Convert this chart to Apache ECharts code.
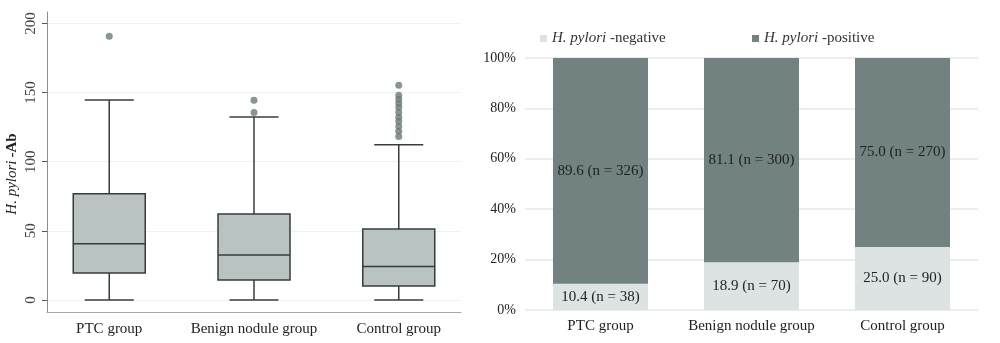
<!DOCTYPE html>
<html>
<head>
<meta charset="utf-8">
<script src="https://cdn.jsdelivr.net/npm/echarts@6/dist/echarts.min.js"></script>
<style>html,body{margin:0;padding:0;background:#fff}#c{width:1000px;height:343px}</style>
</head>
<body>
<div id="c"></div>
<script>
// Left chart: box plot of H. pylori-Ab
const boxCategories = ['PTC group', 'Benign nodule group', 'Control group'];
const boxMin = [0, 0, 0];
const boxQ1 = [19.5, 14.5, 10.1];
const boxMedian = [40.7, 32.5, 24.3];
const boxQ3 = [76.8, 62.1, 51.3];
const boxMax = [144.7, 132.4, 112.2];
const outliersPTC = [190.7];
const outliersBenign = [135.6, 144.5];
const outliersControl = [118.3, 122.1, 125.7, 129.3, 132.2, 135.8, 139.4, 142.3, 145.2, 148.1, 155.3];
const boxTicks = [0, 50, 100, 150, 200];

// Right chart: stacked percentage bars
const barCategories = ['PTC group', 'Benign nodule group', 'Control group'];
const negativePct = [10.4, 18.9, 25.0];
const negativeN = [38, 70, 90];
const positivePct = [89.6, 81.1, 75.0];
const positiveN = [326, 300, 270];

const FONT = '"Liberation Serif", serif';
const boxData = boxCategories.map((c, i) => [i + 1, boxMin[i], boxQ1[i], boxMedian[i], boxQ3[i], boxMax[i]]);
const outlierData = [];
outliersPTC.forEach(v => outlierData.push([1, v]));
outliersBenign.forEach(v => outlierData.push([2, v]));
outliersControl.forEach(v => outlierData.push([3, v]));

const chart = echarts.init(document.getElementById('c'), null, {renderer: 'canvas'});
chart.setOption({
  animation: false,
  textStyle: {fontFamily: FONT},
  grid: [
    {left: 47, top: 12, width: 414, bottom: 31},
    {left: 525, right: 22, top: 58, bottom: 33}
  ],
  legend: [
    {left: 535, top: 26, itemWidth: 7, itemHeight: 7, icon: 'rect', data: ['neg'],
     formatter: () => '{i|H. pylori} -negative',
     textStyle: {fontSize: 15, color: '#333', fontFamily: FONT, rich: {i: {fontStyle: 'italic', fontSize: 15, fontFamily: FONT, color: '#333'}}}},
    {left: 747, top: 26, itemWidth: 7, itemHeight: 7, icon: 'rect', data: ['pos'],
     formatter: () => '{i|H. pylori} -positive',
     textStyle: {fontSize: 15, color: '#333', fontFamily: FONT, rich: {i: {fontStyle: 'italic', fontSize: 15, fontFamily: FONT, color: '#333'}}}}
  ],
  xAxis: [
    {type: 'value', gridIndex: 0, min: 0.57, max: 3.43,
     axisLine: {onZero: false, lineStyle: {color: '#a3a8a8', width: 1}},
     axisTick: {show: false}, splitLine: {show: false},
     axisLabel: {customValues: [1, 2, 3], formatter: v => boxCategories[Math.round(v) - 1] || '',
                 fontSize: 15, color: '#222', fontFamily: FONT, margin: 10, hideOverlap: false}},
    {type: 'category', gridIndex: 1, data: barCategories,
     axisLine: {show: false}, axisTick: {show: false},
     axisLabel: {interval: 0, hideOverlap: false, fontSize: 15, color: '#222', fontFamily: FONT, margin: 9}}
  ],
  yAxis: [
    {type: 'value', gridIndex: 0, min: -8.7, max: 208.3,
     name: '{i|H. pylori} {b|-Ab}', nameLocation: 'middle', nameGap: 27,
     nameTextStyle: {padding: [0, 24, 0, 0], rich: {
       i: {fontStyle: 'italic', fontSize: 15, fontFamily: FONT, color: '#222'},
       b: {fontWeight: 'bold', fontSize: 15, fontFamily: FONT, color: '#222'}}},
     axisLine: {show: true, lineStyle: {color: '#8a8f8f', width: 1}},
     axisTick: {show: true, customValues: boxTicks, length: 5, lineStyle: {color: '#555'}},
     axisLabel: {customValues: boxTicks, rotate: 90, fontSize: 15, color: '#444', fontFamily: FONT, margin: 8},
     splitLine: {show: true, lineStyle: {color: '#eef2f2', width: 1}}},
    {type: 'value', gridIndex: 1, min: 0, max: 100, interval: 20,
     axisLine: {show: false}, axisTick: {show: false},
     axisLabel: {formatter: '{value}%', fontSize: 14, color: '#222', fontFamily: FONT, margin: 9},
     splitLine: {lineStyle: {color: '#e4e8e8', width: 1.5}}}
  ],
  series: [
    {type: 'custom', xAxisIndex: 0, yAxisIndex: 0, data: boxData,
     encode: {x: 0, y: [1, 2, 3, 4, 5]},
     renderItem: function (params, api) {
       const x = api.value(0);
       const pMin = api.coord([x, api.value(1)]);
       const pQ1 = api.coord([x, api.value(2)]);
       const pMed = api.coord([x, api.value(3)]);
       const pQ3 = api.coord([x, api.value(4)]);
       const pMax = api.coord([x, api.value(5)]);
       const hw = 36, cw = 24.5, cx = pMed[0];
       const ls = {stroke: '#373d3e', lineWidth: 1.5};
       return {type: 'group', children: [
         {type: 'line', shape: {x1: cx, y1: pQ3[1], x2: cx, y2: pMax[1]}, style: ls},
         {type: 'line', shape: {x1: cx, y1: pQ1[1], x2: cx, y2: pMin[1]}, style: ls},
         {type: 'line', shape: {x1: cx - cw, y1: pMax[1], x2: cx + cw, y2: pMax[1]}, style: ls},
         {type: 'line', shape: {x1: cx - cw, y1: pMin[1], x2: cx + cw, y2: pMin[1]}, style: ls},
         {type: 'rect', shape: {x: cx - hw, y: pQ3[1], width: 2 * hw, height: pQ1[1] - pQ3[1]},
          style: {fill: '#b9c4c2', stroke: '#373d3e', lineWidth: 1.5}},
         {type: 'line', shape: {x1: cx - hw, y1: pMed[1], x2: cx + hw, y2: pMed[1]}, style: ls}
       ]};
     }},
    {type: 'scatter', xAxisIndex: 0, yAxisIndex: 0, data: outlierData, symbolSize: 7,
     itemStyle: {color: '#6c7979'}},
    {name: 'neg', type: 'bar', xAxisIndex: 1, yAxisIndex: 1, stack: 'total', barWidth: 95,
     data: negativePct, itemStyle: {color: '#dde3e2'},
     label: {show: true, position: 'inside', fontSize: 15, color: '#222', fontFamily: FONT,
             formatter: p => negativePct[p.dataIndex].toFixed(1) + ' (n = ' + negativeN[p.dataIndex] + ')'}},
    {name: 'pos', type: 'bar', xAxisIndex: 1, yAxisIndex: 1, stack: 'total', barWidth: 95,
     data: positivePct, itemStyle: {color: '#718281'},
     label: {show: true, position: 'inside', fontSize: 15, color: '#222', fontFamily: FONT,
             formatter: p => positivePct[p.dataIndex].toFixed(1) + ' (n = ' + positiveN[p.dataIndex] + ')'}}
  ]
});
</script>
</body>
</html>
